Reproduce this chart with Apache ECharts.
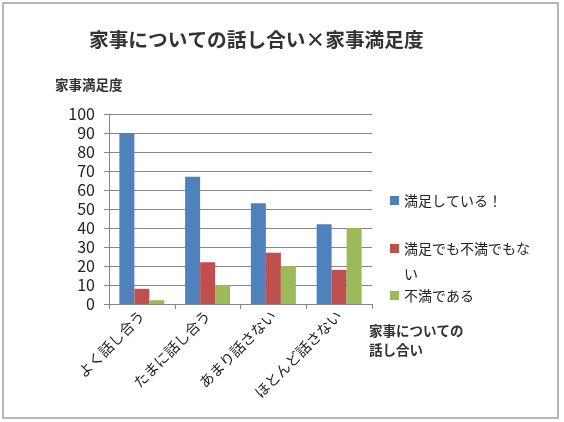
<!DOCTYPE html>
<html>
<head>
<meta charset="utf-8">
<script src="https://cdn.jsdelivr.net/npm/echarts@6/dist/echarts.min.js"></script>
<style>
  html, body { margin: 0; padding: 0; background: #fff; }
  #main { width: 564px; height: 422px; }
</style>
</head>
<body>
<div id="main"></div>
<script>
// データ
var categories = ['よく話し合う', 'たまに話し合う', 'あまり話さない', 'ほとんど話さない'];
var seriesNames = ['満足している！', '満足でも不満でもない', '不満である'];
var manzoku = [90, 67, 53, 42];
var dochiramo = [8, 22, 27, 18];
var fuman = [2, 10, 20, 40];
var yTicks = { min: 0, max: 100, interval: 10 };

var font = '"Noto Sans CJK JP", sans-serif';
var chart = echarts.init(document.getElementById('main'));

// 凡例（1項目ずつ配置）
function legendItem(name, top, fmt) {
  return {
    orient: 'vertical',
    left: 385,
    top: top,
    data: [name],
    icon: 'rect',
    itemWidth: 9,
    itemHeight: 9,
    itemGap: 0,
    selectedMode: false,
    formatter: fmt || '{name}',
    textStyle: {
      fontFamily: font, fontSize: 14, color: '#222',
      lineHeight: 25, width: 128, overflow: 'break'
    }
  };
}

var option = {
  backgroundColor: '#fff',
  animation: false,
  textStyle: { fontFamily: font },
  title: [
    {
      text: '家事についての話し合い×家事満足度',
      left: 84, top: 25,
      textStyle: { fontFamily: font, fontSize: 19.7, fontWeight: 'bold', color: '#333' }
    },
    {
      text: '家事満足度',
      left: 50, top: 73,
      textStyle: { fontFamily: font, fontSize: 13.5, fontWeight: 'bold', color: '#333' }
    },
    {
      text: '家事についての\n話し合い',
      left: 364, top: 316,
      textStyle: { fontFamily: font, fontSize: 13.5, fontWeight: 'bold', color: '#333', lineHeight: 19 }
    }
  ],
  legend: [
    legendItem(seriesNames[0], 183),
    legendItem(seriesNames[1], 206, function (n) { return '\n' + n; }),
    legendItem(seriesNames[2], 278)
  ],
  grid: { left: 109, right: 192, top: 114, bottom: 118 },
  xAxis: {
    type: 'category',
    data: categories,
    axisLine: { lineStyle: { color: '#868686' } },
    axisTick: { show: true, length: 5, lineStyle: { color: '#868686' } },
    axisLabel: { rotate: 45, fontSize: 14.5, color: '#222', margin: 9, fontFamily: font }
  },
  yAxis: {
    type: 'value',
    min: yTicks.min, max: yTicks.max, interval: yTicks.interval,
    axisLine: { show: true, lineStyle: { color: '#868686' } },
    axisTick: { show: true, length: 5, lineStyle: { color: '#868686' } },
    axisLabel: { fontSize: 16, color: '#222', margin: 14, fontFamily: font },
    splitLine: { lineStyle: { color: '#868686', width: 1 } }
  },
  series: [
    { name: seriesNames[0], type: 'bar', data: manzoku, barWidth: 15, barGap: '0%', itemStyle: { color: '#4f81bd' } },
    { name: seriesNames[1], type: 'bar', data: dochiramo, barWidth: 15, barGap: '0%', itemStyle: { color: '#c0504d' } },
    { name: seriesNames[2], type: 'bar', data: fuman, barWidth: 15, barGap: '0%', itemStyle: { color: '#9bbb59' } }
  ],
  graphic: [
    {
      type: 'rect', silent: true, z: -1,
      shape: { x: 3, y: 3, width: 555, height: 415 },
      style: { fill: 'none', stroke: '#a0a0a0', lineWidth: 1.5 }
    }
  ]
};

chart.setOption(option);
</script>
</body>
</html>
